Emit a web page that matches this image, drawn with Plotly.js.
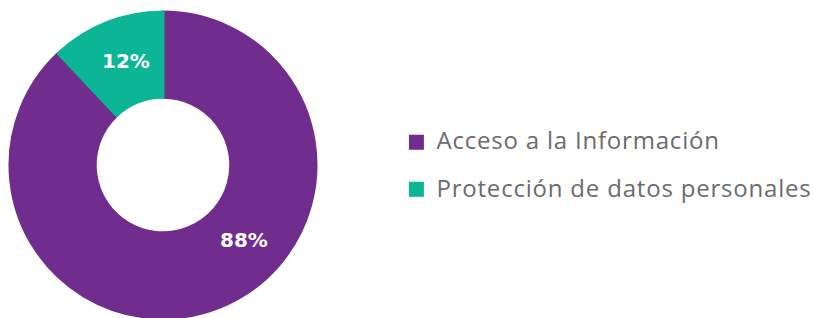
<!DOCTYPE html>
<html>
<head>
<meta charset="utf-8">
<script src="https://cdn.plot.ly/plotly-3.0.1.min.js"></script>
<style>
html,body{margin:0;padding:0;overflow:hidden;background:#fff;width:814px;height:318px;}
#chart{width:814px;height:322px;}
</style>
</head>
<body>
<div id="chart"></div>
<script>
const labels = ["Acceso a la Información", "Protección de datos personales"];
const values = [88, 12];
const colors = ["#702D8D", "#0CB596"];

const W = 814, H = 322;
const margin = {l: 0, r: 0, t: 11.5, b: 3.5, autoexpand: false};
const domainX = [9.5 / W, 316.5 / W];
const domainY = [0, 1];
const holeFrac = 0.443;
const edgeWidth = 3;
const labelFrac = [0.42, 0.55];   // where along each slice its label sits
const legendTextSize = 24;

const total = values.reduce((a, b) => a + b, 0);
const plotW = W - margin.l - margin.r, plotH = H - margin.t - margin.b;
const cx = margin.l + (domainX[0] + domainX[1]) / 2 * plotW;
const cy = margin.t + (1 - (domainY[0] + domainY[1]) / 2) * plotH;
const R = Math.min((domainX[1] - domainX[0]) * plotW, (domainY[1] - domainY[0]) * plotH) / 2;
const rLab = R * (1 + holeFrac) / 2;

const annotations = [];
let cum = 0;
values.forEach((v, i) => {
  const a0 = cum / total * 2 * Math.PI;
  const a1 = (cum + v) / total * 2 * Math.PI;
  const a = a0 + (a1 - a0) * labelFrac[i];
  const px = cx + rLab * Math.sin(a);
  const py = cy - rLab * Math.cos(a);
  annotations.push({
    x: (px - margin.l) / plotW, y: 1 - (py - margin.t) / plotH,
    xref: "paper", yref: "paper", showarrow: false,
    text: Math.round(v / total * 100) + "%",
    font: {family: "DejaVu Sans", size: 20, color: "#ffffff", weight: 700},
    xanchor: "center", yanchor: "middle"
  });
  cum += v;
});

const data = [{
  type: "pie",
  labels: labels.map(l => '<span style="font-size:' + legendTextSize + 'px;letter-spacing:0.8px;baseline-shift:6px">' + l + '</span>'),
  values: values,
  hole: holeFrac,
  sort: false,
  direction: "clockwise",
  rotation: 0,
  textinfo: "none",
  marker: {colors: colors, line: {width: edgeWidth, color: colors}},
  domain: {x: domainX, y: domainY},
  hoverinfo: "none"
}];

const layout = {
  width: W, height: H,
  margin: margin,
  paper_bgcolor: "#ffffff",
  plot_bgcolor: "#ffffff",
  showlegend: true,
  legend: {
    x: 0.487, xanchor: "left",
    y: 0.4965, yanchor: "middle",
    font: {family: "Open Sans", size: 34, color: "#6b6b6e"},
    itemclick: false, itemdoubleclick: false
  },
  annotations: annotations
};

Plotly.newPlot("chart", data, layout, {displayModeBar: false, staticPlot: true});
</script>
</body>
</html>
